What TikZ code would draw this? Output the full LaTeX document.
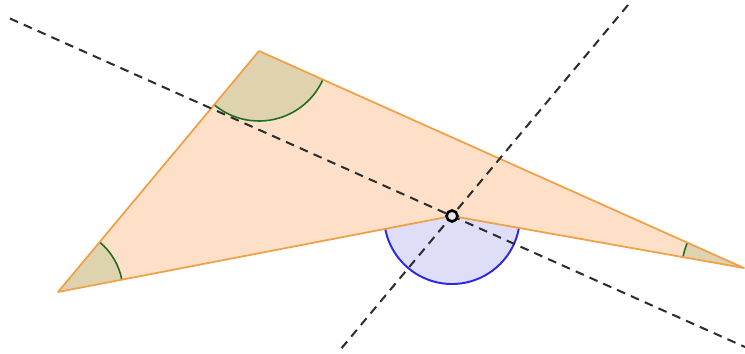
\documentclass[tikz,border=0pt]{standalone}
\usepackage{tikz}
\usetikzlibrary{angles,calc}
\definecolor{polyfill}{RGB}{254,224,200}
\definecolor{polyedge}{RGB}{240,160,70}
\definecolor{angfill}{RGB}{222,211,174}
\definecolor{angedge}{RGB}{30,110,30}
\definecolor{refill}{RGB}{222,222,248}
\definecolor{reedge}{RGB}{40,40,230}
\definecolor{guide}{RGB}{45,45,45}

\begin{document}
\begin{tikzpicture}[
  poly/.style={fill=polyfill, draw=polyedge, line width=1pt, line join=round},
  angmark/.style={draw=angedge, fill=angfill, line width=0.9pt},
  sumangle/.style={draw=reedge, fill=refill, line width=1.1pt, angle radius=1.36cm},
  guideline/.style={draw=guide, line width=1.15pt, dash pattern=on 5pt off 3.6pt},
  dot/.style={circle, draw=black, fill=gray!20, line width=1.5pt,
    inner sep=0pt, minimum size=0.22cm},
]
\useasboundingbox (0,0) rectangle (14.9,7.06);
\coordinate (A) at (1.16,1.22);
\coordinate (B) at (5.18,6.04);
\coordinate (C) at (14.88,1.70);
\coordinate (D) at (9.04,2.74);
\coordinate (l1a) at (0.20,6.69);
\coordinate (l1b) at (14.90,0.12);
\coordinate (l2a) at (12.56,6.96);
\coordinate (l2b) at (6.80,0.06);
\fill[polyfill] (A) -- (B) -- (C) -- (D) -- cycle;
\pic[sumangle] {angle = A--D--C};
\pic[angmark, angle radius=1.3cm]  {angle = D--A--B};
\pic[angmark, angle radius=1.4cm]  {angle = A--B--C};
\pic[angmark, angle radius=1.24cm] {angle = B--C--D};
\draw[poly, fill=none] (A) -- (B) -- (C) -- (D) -- cycle;
\draw[guideline] (l1a) -- (l1b);
\draw[guideline] (l2a) -- (l2b);
\node[dot] (pD) at (D) {};
\end{tikzpicture}
\end{document}
